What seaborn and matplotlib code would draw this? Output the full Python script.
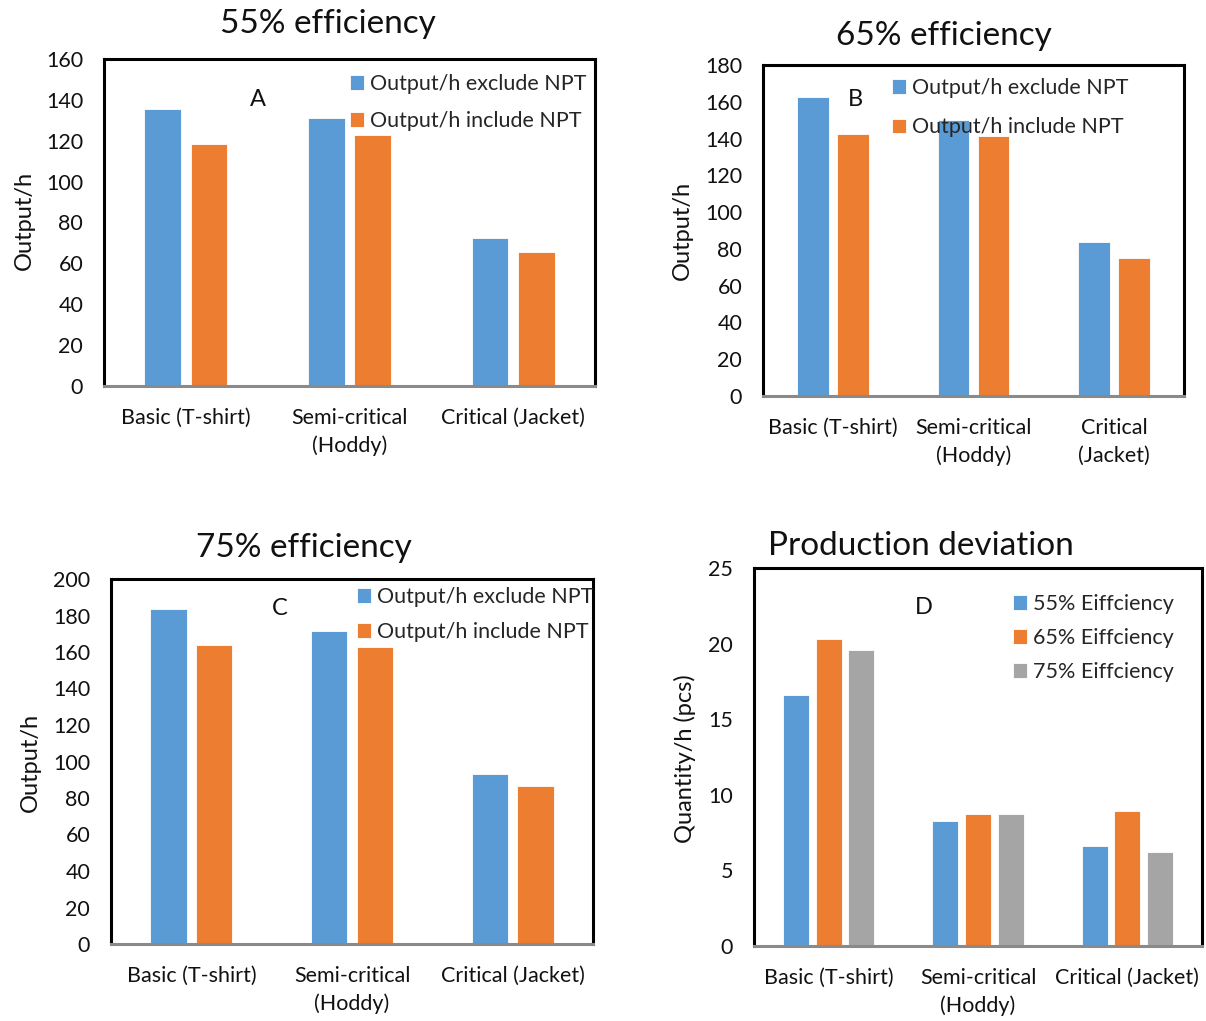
import pandas as pd
import matplotlib.pyplot as plt
import seaborn as sns

# ---------------------------------------------------------
# Data
# ---------------------------------------------------------
products = ["Basic (T-shirt)", "Semi-critical (Hoddy)", "Critical (Jacket)"]
npt_series = ["Output/h exclude NPT", "Output/h include NPT"]

exclude_55 = [135.4, 131.1, 72.2]
include_55 = [118.6, 122.8, 65.7]
exclude_65 = [162.8, 149.9, 83.8]
include_65 = [142.6, 141.2, 75.1]
exclude_75 = [183.7, 171.3, 93.0]
include_75 = [164.0, 162.7, 86.7]

eff_series = ["55% Eiffciency", "65% Eiffciency", "75% Eiffciency"]
dev_55 = [16.6, 8.3, 6.6]
dev_65 = [20.3, 8.7, 8.9]
dev_75 = [19.6, 8.7, 6.25]

labels_wide = ["Basic (T-shirt)", "Semi-critical\n(Hoddy)", "Critical (Jacket)"]
labels_narrow = ["Basic (T-shirt)", "Semi-critical\n(Hoddy)", "Critical\n(Jacket)"]

blue, orange, gray = "#5B9BD5", "#ED7D31", "#A5A5A5"

# ---------------------------------------------------------
# Style
# ---------------------------------------------------------
sns.set_theme(style="white")
plt.rcParams["font.family"] = ["Lato", "DejaVu Sans"]

W, H = 1206, 1021
fig = plt.figure(figsize=(W / 100, H / 100), dpi=100)


def fx(px):
    return px / W


def fy(py):
    return 1 - py / H


def long_table(series_names, columns):
    rows = []
    for name, vals in zip(series_names, columns):
        for prod, v in zip(products, vals):
            rows.append({"product": prod, "series": name, "value": v})
    return pd.DataFrame(rows)


def panel(box, df, palette, width, ymax, ystep, xlabels, ylabel, title,
          title_xy, ylabel_xy, letter, letter_xy, leg_xy, leg_spacing):
    l, t, r, b = box
    ax = fig.add_axes([fx(l), fy(b), fx(r - l), (b - t) / H])
    sns.barplot(data=df, x="product", y="value", hue="series", palette=palette,
                width=width, gap=0.21, saturation=1, edgecolor="white",
                linewidth=0.6, ax=ax)
    ax.set_ylim(0, ymax)
    ax.set_yticks(range(0, ymax + 1, ystep))
    ax.set_xlim(-0.5, 2.5)
    ax.set_xticks(range(3))
    ax.set_xticklabels(xlabels, linespacing=1.45)
    ax.tick_params(axis="both", length=0, labelsize=15.5, colors="#111111")
    ax.tick_params(axis="y", pad=15)
    ax.tick_params(axis="x", pad=16)
    ax.set_xlabel("")
    ax.set_ylabel(ylabel, fontsize=17, color="#111111")
    ax.yaxis.set_label_coords(fx(ylabel_xy[0]), fy(ylabel_xy[1]), transform=fig.transFigure)
    ax.yaxis.label.set_va("center")
    for s in ["left", "top", "right"]:
        ax.spines[s].set_color("black")
        ax.spines[s].set_linewidth(2.2)
    ax.spines["bottom"].set_color("#8a8a8a")
    ax.spines["bottom"].set_linewidth(2.2)
    fig.text(fx(title_xy[0]), fy(title_xy[1]), title, ha="center", va="center",
             fontsize=24, color="#111111")
    ax.text(fx(letter_xy[0]), fy(letter_xy[1]), letter, transform=fig.transFigure,
            ha="center", va="center", fontsize=17, color="#111111")
    ax.legend(loc="upper left", bbox_to_anchor=(fx(leg_xy[0]), fy(leg_xy[1])),
              bbox_transform=fig.transFigure, frameon=False, borderpad=0,
              borderaxespad=0, handlelength=0.65, handleheight=0.65,
              handletextpad=0.3, labelspacing=leg_spacing, fontsize=15.5)
    return ax


pal2 = [blue, orange]
pal3 = [blue, orange, gray]

panel((104, 59, 595, 386), long_table(npt_series, [exclude_55, include_55]), pal2,
      0.568, 160, 20, labels_wide, "Output/h", "55% efficiency",
      (328, 24), (24, 220), "A", (258, 100), (350, 74), 0.8)

panel((763, 65, 1184, 396), long_table(npt_series, [exclude_65, include_65]), pal2,
      0.568, 180, 20, labels_narrow, "Output/h", "65% efficiency",
      (944, 36), (682, 230), "B", (855, 100), (892, 78), 0.9)

panel((111, 579, 593, 944), long_table(npt_series, [exclude_75, include_75]), pal2,
      0.568, 200, 20, labels_wide, "Output/h", "75% efficiency",
      (304, 548), (30, 762), "C", (280, 608), (357, 587), 0.7)

panel((754, 568, 1202, 946), long_table(eff_series, [dev_55, dev_65, dev_75]), pal3,
      0.657, 25, 5, labels_wide, "Quantity/h (pcs)", "Production deviation",
      (921, 546), (685, 759), "D", (924, 607), (1013, 594), 0.65)

fig.savefig("out.png", dpi=100)
